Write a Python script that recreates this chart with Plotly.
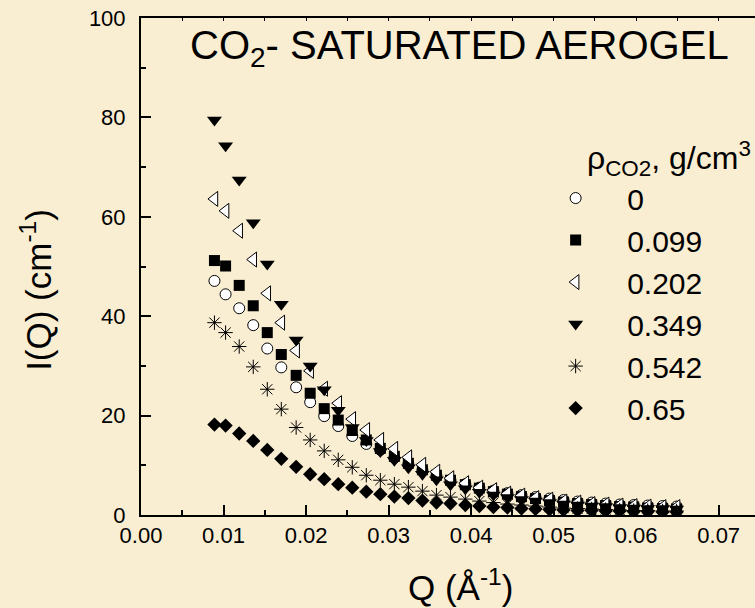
import plotly.graph_objects as go

# Scattering vector Q (1/Angstrom)
q = [0.0089, 0.01025, 0.0119, 0.0136, 0.0153, 0.0170, 0.0188, 0.0205, 0.0222, 0.0239,
     0.0256, 0.0273, 0.0290, 0.0307, 0.0324, 0.0341, 0.0358, 0.0375, 0.0393, 0.0410,
     0.0427, 0.0444, 0.0461, 0.0478, 0.0495, 0.0512, 0.0529, 0.0546, 0.0563, 0.0580,
     0.0597, 0.0614, 0.0632, 0.0649]

# Scattered intensity I(Q) (1/cm) for each CO2 density (g/cm3)
i_000 = [47.1, 44.4, 41.6, 38.2, 33.5, 29.7, 25.7, 22.7, 19.9, 17.9,
         15.9, 14.3, 13.1, 11.5, 10.2, 9.0, 7.9, 7.0, 6.2, 5.5,
         4.9, 4.4, 4.0, 3.6, 3.3, 3.0, 2.7, 2.5, 2.3, 2.1,
         2.0, 1.9, 1.8, 1.7]
i_099 = [51.2, 50.1, 46.2, 42.1, 36.7, 32.3, 28.1, 24.5, 21.4, 19.1,
         17.0, 15.1, 13.4, 11.8, 10.4, 9.1, 8.0, 7.0, 6.1, 5.4,
         4.7, 4.2, 3.7, 3.3, 2.9, 2.6, 2.3, 2.1, 1.9, 1.7,
         1.6, 1.4, 1.3, 1.2]
i_202 = [63.6, 61.2, 57.2, 51.4, 44.6, 38.7, 33.1, 29.0, 25.4, 22.5,
         19.3, 17.1, 15.1, 13.3, 11.6, 10.1, 8.7, 7.4, 6.4, 5.5,
         5.0, 4.3, 3.9, 3.4, 3.1, 2.7, 2.5, 2.2, 2.1, 1.9,
         1.8, 1.7, 1.6, 1.6]
i_349 = [79.5, 74.3, 67.4, 58.8, 50.5, 42.4, 35.2, 30.0, 25.2, 21.1,
         17.6, 15.0, 12.8, 11.0, 9.5, 8.2, 7.1, 6.1, 5.3, 4.6,
         4.0, 3.5, 3.1, 2.8, 2.5, 2.2, 2.0, 1.8, 1.7, 1.5,
         1.4, 1.3, 1.3, 1.2]
i_542 = [38.7, 36.7, 33.9, 29.8, 25.3, 21.3, 17.6, 15.1, 12.9, 11.1,
         9.6, 8.0, 7.0, 6.2, 5.6, 4.8, 4.0, 3.6, 3.2, 2.8,
         2.5, 2.2, 2.0, 1.8, 1.6, 1.4, 1.3, 1.2, 1.1, 1.0,
         0.9, 0.9, 0.8, 0.8]
i_650 = [18.2, 18.0, 16.4, 14.9, 13.1, 11.3, 9.7, 8.2, 7.2, 6.2,
         5.5, 4.7, 4.2, 3.7, 3.4, 2.9, 2.5, 2.3, 2.0, 1.8,
         1.6, 1.5, 1.3, 1.2, 1.1, 1.0, 0.9, 0.9, 0.8, 0.8,
         0.7, 0.7, 0.6, 0.6]

labels = ["0", "0.099", "0.202", "0.349", "0.542", "0.65"]
series = [i_000, i_099, i_202, i_349, i_542, i_650]

FONT = "Liberation Sans, Arial, sans-serif"
BG = "#F9EDD2"

styles = [
    dict(symbol="circle", size=11, color="white", line=dict(color="black", width=1)),
    dict(symbol="square", size=11, color="black", line=dict(color="black", width=0)),
    dict(symbol="triangle-left", size=13, color="white", line=dict(color="black", width=1)),
    dict(symbol="triangle-down", size=13, color="black", line=dict(color="black", width=0)),
    dict(symbol="asterisk-open", size=12, color="black", line=dict(color="black", width=1)),
    dict(symbol="diamond", size=11, color="black", line=dict(color="black", width=0)),
]

fig = go.Figure()
for lab, ys, st in zip(labels, series, styles):
    fig.add_trace(go.Scatter(x=q, y=ys, mode="markers", name=lab, marker=st,
                             xaxis="x", yaxis="y"))

# invisible trace that carries the short ticks of the top frame line
fig.add_trace(go.Scatter(x=[q[0]], y=[i_000[0]], mode="markers", marker=dict(opacity=0),
                         showlegend=False, hoverinfo="skip", xaxis="x2", yaxis="y"))

fig.update_layout(
    width=755, height=608,
    margin=dict(l=141, r=0, t=18, b=93),
    paper_bgcolor=BG, plot_bgcolor=BG,
    font=dict(family=FONT, color="black", size=22),
    showlegend=True,
    legend=dict(
        x=0.624, y=0.69, xanchor="left", yanchor="top",
        bgcolor="rgba(0,0,0,0)", borderwidth=0,
        font=dict(size=30, family=FONT),
        itemwidth=93, tracegroupgap=0,
    ),
    xaxis=dict(
        range=[0, 0.0744], showgrid=False, zeroline=False,
        showline=True, linecolor="black", linewidth=2,
        ticks="inside", ticklen=10, tickwidth=1.5, tickcolor="black",
        tick0=0, dtick=0.01, tickformat=".2f",
        minor=dict(ticks="inside", ticklen=5, tickwidth=1.5, dtick=0.005, tick0=0, tickcolor="black"),
        tickfont=dict(size=22, family=FONT),
    ),
    xaxis2=dict(
        overlaying="x", matches="x", side="top", showgrid=False, zeroline=False,
        showline=True, linecolor="black", linewidth=2,
        ticks="inside", ticklen=3, tickwidth=1, tickcolor="black",
        tick0=0, dtick=0.005, showticklabels=False,
    ),
    yaxis=dict(
        range=[0, 100], showgrid=False, zeroline=False,
        showline=True, linecolor="black", linewidth=2,
        ticks="inside", ticklen=10, tickwidth=1.5, tickcolor="black",
        tick0=0, dtick=20, ticklabelstandoff=9,
        minor=dict(ticks="inside", ticklen=5, tickwidth=1.5, dtick=10, tick0=0, tickcolor="black"),
        tickfont=dict(size=22, family=FONT),
    ),
    annotations=[
        dict(text="CO<sub>2</sub>- SATURATED AEROGEL", xref="paper", yref="paper",
             x=0.518, y=0.94, xanchor="center", yanchor="middle", showarrow=False,
             font=dict(size=40, family=FONT)),
        dict(text="\u03c1<sub>CO2</sub>, g/cm<sup>3</sup>", xref="paper", yref="paper",
             x=0.723, y=0.718, xanchor="left", yanchor="middle", showarrow=False,
             font=dict(size=32, family=FONT)),
        dict(text="Q (\u00c5<sup>-1</sup>)", xref="paper", yref="paper",
             x=0.521, y=-0.141, xanchor="center", yanchor="middle", showarrow=False,
             font=dict(size=35, family=FONT)),
        dict(text="I(Q) (cm<sup>-1</sup>)", xref="paper", yref="paper", textangle=-90,
             x=-0.171, y=0.453, xanchor="center", yanchor="middle", showarrow=False,
             font=dict(size=35, family=FONT)),
    ],
)

fig.write_html("out.html")
